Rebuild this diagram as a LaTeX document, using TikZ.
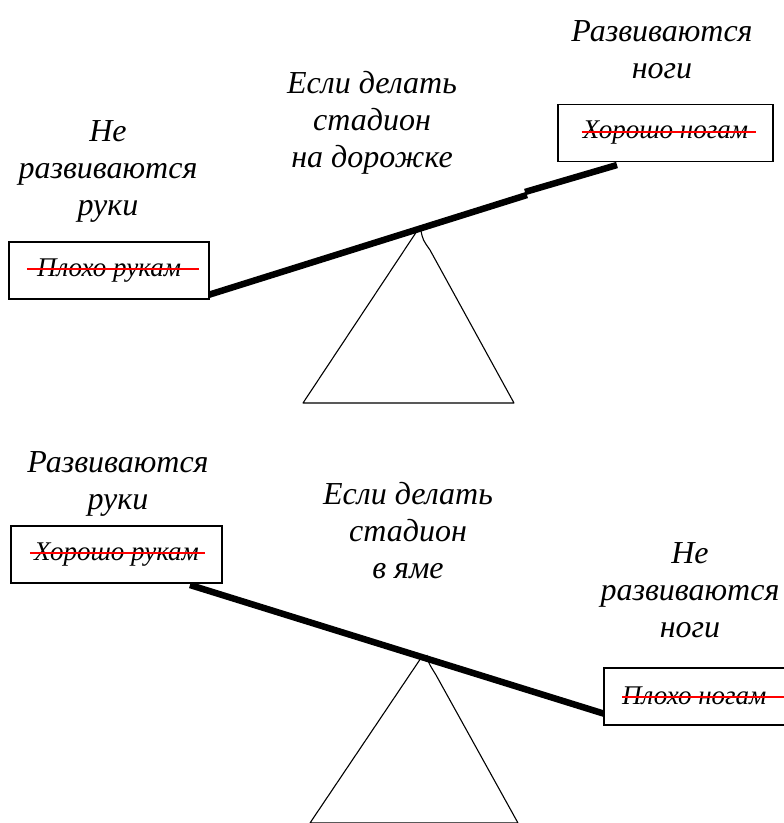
\documentclass[tikz,border=0pt]{standalone}
\usepackage{fontspec}
\setmainfont{Liberation Serif}
\begin{document}
\begin{tikzpicture}[x=1pt, y=-1pt,
    caption/.style={align=center, font=\fontsize{32}{37}\selectfont\itshape},
    card/.style={draw, fill=white, line width=1.3pt, minimum height=57pt},
    cardtext/.style={inner sep=0pt, font=\fontsize{27}{30}\selectfont\itshape},
    beam/.style={line width=6.5pt},
    strike/.style={red, line width=2pt},
    prop/.style={line width=1.1pt, line join=round}]
  \clip (0,0) rectangle (784,823);
  \node[caption] (armsA) at (108,171) {Не\\развиваются\\руки};
  \node[caption] (ruleA) at (372,123) {Если делать\\стадион\\на дорожке};
  \node[caption] (legsA) at (662,50) {Развиваются\\ноги};
  \coordinate (startA) at (205,296);
  \coordinate (tipA) at (417,231);
  \coordinate (stepA) at (527,195);
  \coordinate (endA) at (617,165);
  \draw[beam] (startA) -- (stepA);
  \draw[beam] ([xshift=-2pt,yshift=3pt]stepA) -- (endA);
  \draw[prop] (tipA) -- (303,403) -- (514,403) -- (430,250) .. controls (423,240) .. (421,231);
  \node[card, minimum width=200pt] (boxA) at (109,270.5) {};
  \node[cardtext] (txtA) at (boxA) {Плохо рукам};
  \draw[strike] ([xshift=-10pt,yshift=7pt]txtA.base west) -- ([xshift=18pt,yshift=7pt]txtA.base east);
  \node[card, minimum width=215pt] (boxB) at (665.5,133) {};
  \node[cardtext] (txtB) at (boxB) {Хорошо ногам};
  \draw[strike] ([xshift=-1pt,yshift=7pt]txtB.base west) -- ([xshift=8pt,yshift=7pt]txtB.base east);
  \node[caption] (armsB) at (118,484) {Развиваются\\руки};
  \node[caption] (ruleB) at (408,531) {Если делать\\стадион\\в яме};
  \node[caption] (legsB) at (690,590) {Не\\развиваются\\ноги};
  \coordinate (startB) at (190,585);
  \coordinate (tipB) at (423,655);
  \draw[beam] (startB) -- (605,714);
  \draw[prop] (tipB) -- (310,823) -- (518,823) -- (436,675) .. controls (428,662) .. (427,655);
  \node[card, minimum width=211pt] (boxC) at (116.5,554.5) {};
  \node[cardtext] (txtC) at (boxC) {Хорошо рукам};
  \draw[strike] ([xshift=-4pt,yshift=7pt]txtC.base west) -- ([xshift=6pt,yshift=7pt]txtC.base east);
  \node[card, minimum width=200pt] (boxD) at (704,696.5) {};
  \node[cardtext, anchor=base west] (txtD) at (622,704) {Плохо ногам};
  \draw[strike] ([yshift=7pt]txtD.base west) -- ([xshift=40pt,yshift=7pt]txtD.base east);
\end{tikzpicture}
\end{document}
